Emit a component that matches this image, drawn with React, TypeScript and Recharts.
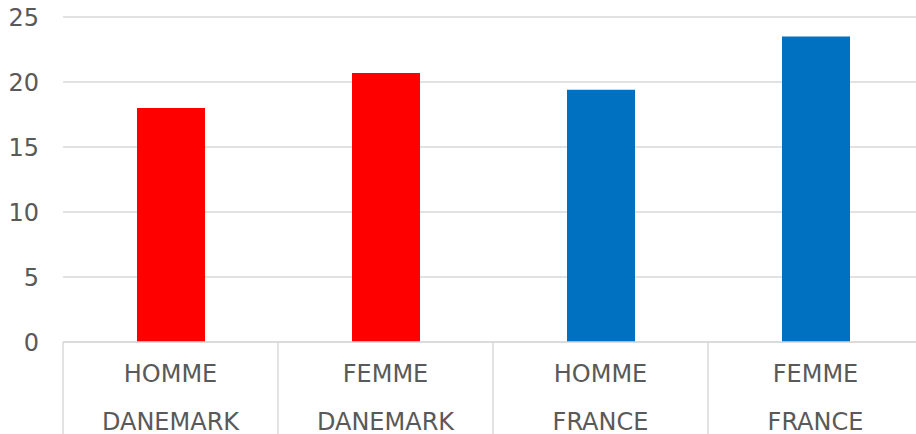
import { Bar, BarChart, CartesianGrid, Cell, XAxis, YAxis } from "recharts"

const sexes = ["HOMME", "FEMME", "HOMME", "FEMME"]
const countries = ["DANEMARK", "DANEMARK", "FRANCE", "FRANCE"]
const values = [18.0, 20.7, 19.4, 23.5]
const barColors = ["#ff0000", "#ff0000", "#0070c0", "#0070c0"]
const yTicks = [0, 5, 10, 15, 20, 25]

const data = values.map((v, i) => ({ key: `${sexes[i]}-${countries[i]}`, sex: sexes[i], country: countries[i], value: v }))

const W = 916
const H = 434
const margin = { top: 17, right: -7, left: 0, bottom: 0 }
const yAxisWidth = 63
const xAxisHeight = 92
const step = (W - yAxisWidth - margin.left - margin.right) / data.length

const TwoLineTick = (props: any) => {
  const { x, y, index } = props
  const d = data[index]
  return (
    <g>
      <line x1={x - step / 2} y1={y} x2={x - step / 2} y2={y + xAxisHeight} stroke="#d9d9d9" strokeWidth={1.5} />
      <text x={x} y={y + 40} textAnchor="middle" fill="#595959" fontSize={24} fontFamily="DejaVu Sans">
        {d.sex}
      </text>
      <text x={x} y={y + 88} textAnchor="middle" fill="#595959" fontSize={24} fontFamily="DejaVu Sans">
        {d.country}
      </text>
    </g>
  )
}

export default function App() {
  return (
    <div style={{ position: "absolute", left: 0, top: 0, background: "#fff" }}>
      <BarChart width={W} height={H} data={data} margin={margin}>
        <CartesianGrid vertical={false} stroke="#d9d9d9" strokeWidth={1.5} />
        <XAxis
          dataKey="key"
          height={xAxisHeight}
          tickLine={false}
          tickSize={0}
          tickMargin={0}
          axisLine={{ stroke: "#d9d9d9", strokeWidth: 1.5 }}
          tick={<TwoLineTick />}
          interval={0}
        />
        <YAxis
          width={yAxisWidth}
          domain={[0, 25]}
          ticks={yTicks}
          tickLine={false}
          axisLine={false}
          tickSize={0}
          tickMargin={24}
          tick={{ fill: "#595959", fontSize: 24, fontFamily: "DejaVu Sans" }}
        />
        <Bar dataKey="value" barSize={68} isAnimationActive={false}>
          {data.map((d, i) => (
            <Cell key={d.key} fill={barColors[i]} />
          ))}
        </Bar>
      </BarChart>
    </div>
  )
}
